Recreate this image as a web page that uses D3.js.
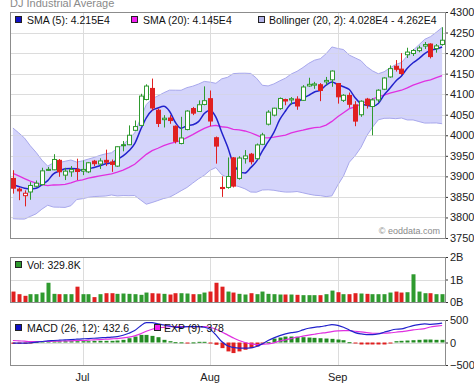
<!DOCTYPE html>
<html>
<head>
<meta charset="utf-8">
<script src="https://cdn.jsdelivr.net/npm/d3@7"></script>
<style>
  body { margin: 0; background: #fff; }
  svg { display: block; }
  text { font-family: "Liberation Sans", Arial, sans-serif; }
</style>
</head>
<body>
<svg width="474" height="386"></svg>
<script>
"use strict";

// closes before the first visible bar, only needed to start SMA(20) / Bollinger
var lookbackCloses = [39908, 39869, 40004, 39807, 39873, 39671, 39065, 39070, 38853, 38442,
    38112, 38686, 38572, 38711, 38807, 38886, 38799, 38868, 38747];

var dates = ["2024-06-12", "2024-06-13", "2024-06-14", "2024-06-17", "2024-06-18", "2024-06-20", "2024-06-21",
    "2024-06-24", "2024-06-25", "2024-06-26", "2024-06-27", "2024-06-28",
    "2024-07-01", "2024-07-02", "2024-07-03", "2024-07-05", "2024-07-08", "2024-07-09", "2024-07-10",
    "2024-07-11", "2024-07-12", "2024-07-15", "2024-07-16", "2024-07-17", "2024-07-18", "2024-07-19",
    "2024-07-22", "2024-07-23", "2024-07-24", "2024-07-25", "2024-07-26", "2024-07-29", "2024-07-30", "2024-07-31",
    "2024-08-01", "2024-08-02", "2024-08-05", "2024-08-06", "2024-08-07", "2024-08-08", "2024-08-09",
    "2024-08-12", "2024-08-13", "2024-08-14", "2024-08-15", "2024-08-16", "2024-08-19", "2024-08-20",
    "2024-08-21", "2024-08-22", "2024-08-23", "2024-08-26", "2024-08-27", "2024-08-28", "2024-08-29", "2024-08-30",
    "2024-09-03", "2024-09-04", "2024-09-05", "2024-09-06", "2024-09-09", "2024-09-10", "2024-09-11",
    "2024-09-12", "2024-09-13", "2024-09-16", "2024-09-17", "2024-09-18", "2024-09-19", "2024-09-20",
    "2024-09-23", "2024-09-24", "2024-09-25", "2024-09-26", "2024-09-27"];

var open = [38950, 38690, 38530, 38620, 38760, 38800, 39170, 39160, 39390, 39030, 39110, 39170,
    39130, 39110, 39370, 39300, 39390, 39350, 39250, 39770, 39770, 40120, 40240, 40870, 41140, 40610,
    40380, 40420, 40220, 39800, 40140, 40650, 40580, 40750,
    40890, 39940, 38730, 38730, 39450, 38950, 39430, 39540, 39430, 39780, 40270, 40490, 40650, 40870,
    40860, 40880, 40850, 41200, 41220, 41230, 41300, 41350,
    41260, 40850, 40970, 40740, 40500, 40880, 40700, 40860, 41120, 41420, 41680, 41610, 41960, 41990,
    42060, 42170, 42220, 42110, 42210];

var high = [39150, 38730, 38660, 38860, 38900, 39210, 39230, 39540, 39420, 39210, 39250, 39430,
    39390, 39350, 39400, 39440, 39650, 39410, 39730, 39860, 40240, 40360, 41010, 41240, 41380, 40650,
    40490, 40490, 40240, 40450, 40610, 40690, 40850, 41190,
    41090, 39970, 39000, 39460, 39470, 39490, 39640, 39570, 39800, 40060, 40610, 40670, 40920, 40890,
    40930, 40950, 41220, 41400, 41300, 41270, 41420, 41580,
    41270, 41000, 41040, 40830, 40850, 40910, 40900, 41120, 41410, 41700, 41830, 42000, 42130, 42100,
    42180, 42270, 42240, 42220, 42630];

var low = [38580, 38420, 38270, 38430, 38730, 38780, 39130, 39150, 38990, 38910, 38990, 38910,
    39030, 39080, 39250, 39180, 39250, 39110, 39230, 39610, 39760, 40110, 40230, 40850, 40600, 40200,
    40190, 40280, 39800, 39780, 40120, 40490, 40570, 40730,
    40220, 39310, 38500, 38700, 38730, 38920, 39310, 39290, 39410, 39760, 40240, 40460, 40620, 40730,
    40750, 40620, 40840, 41180, 41130, 40830, 41220, 41180,
    40770, 40810, 40670, 40220, 40450, 40650, 40000, 40800, 41100, 41400, 41550, 41470, 41880, 41930,
    42020, 42100, 41870, 42010, 42180];

var close = [38712, 38647, 38589, 38778, 38834, 39134, 39150, 39411, 39112, 39127, 39164, 39118,
    39169, 39331, 39308, 39375, 39344, 39291, 39721, 39753, 40001, 40212, 40954, 41198, 40665, 40288,
    40415, 40358, 39854, 39935, 40589, 40539, 40743, 40842,
    40347, 39737, 38703, 38997, 38763, 39446, 39497, 39357, 39765, 40009, 40563, 40659, 40896, 40834,
    40890, 40712, 41175, 41240, 41250, 41091, 41335, 41563,
    40936, 40974, 40755, 40345, 40829, 40736, 40861, 41097, 41394, 41622, 41606, 41503, 42025, 42063,
    42124, 42208, 41915, 42175, 42313];

// volume in millions
var volume = [464, 348, 275, 348, 348, 420, 855, 362, 348, 348, 348, 681,
    348, 348, 217, 348, 391, 391, 362, 377, 362, 348, 319, 420, 391, 377,
    362, 333, 391, 391, 377, 348, 348, 420,
    464, 855, 681, 464, 420, 362, 333, 391, 348, 464, 362, 348, 333, 333,
    333, 319, 304, 304, 304, 304, 348, 507,
    435, 348, 348, 391, 377, 362, 348, 348, 348, 420, 464, 420, 435, 1232,
    464, 391, 391, 348, 348];

var macd = [-15, -15, -15, -7, 7, 22, 37, 44, 51, 59, 66, 73,
    81, 88, 95, 103, 110, 118, 132, 162, 206, 265, 368, 441, 441, 412,
    390, 368, 338, 338, 353, 353, 353, 338,
    294, 169, 22, -73, -110, -125, -125, -118, -88, -29, 44, 103, 154, 191,
    220, 235, 279, 316, 338, 353, 375, 397,
    382, 338, 279, 220, 191, 176, 176, 191, 228, 265, 294, 301, 338, 375,
    397, 412, 404, 412, 432.6];

var signal = [44, 37, 29, 22, 22, 22, 22, 29, 29, 37, 37, 44,
    44, 51, 59, 66, 73, 81, 88, 103, 118, 147, 191, 250, 294, 323,
    338, 353, 353, 353, 353, 353, 353, 353,
    338, 294, 235, 169, 103, 44, 0, -29, -44, -44, -29, -7, 29, 59,
    88, 118, 140, 162, 184, 206, 220, 243,
    257, 265, 265, 250, 235, 220, 206, 206, 206, 213, 228, 243, 257, 279,
    294, 309, 345, 362, 378];

var hist = [-29, -29, -29, -22, 15, 22, 22, 29, 29, 29, 29, 29,
    29, 29, 37, 37, 37, 37, 44, 59, 95, 132, 169, 169, 147, 118,
    59, 29, 7, 4, -15, 3, 15, 15,
    -4, -51, -125, -198, -235, -198, -162, -125, -88, -15, 7, 88, 110, 132,
    132, 125, 118, 110, 103, 95, 88, 81,
    66, 51, 7, -7, -44, -44, -44, -44, -44, -7, 29, 37, 44, 51,
    59, 66, 66, 59, 59];

var priceTicks = [37500, 38000, 38500, 39000, 39500, 40000, 40500, 41000, 41500, 42000, 42500, 43000];
var volTicks = [0, 1000, 2000];
var macdTicks = [-500, 0, 500];
var volLabel = "Vol: 329.8K";

var left = 10, right = 445;
var main = { top: 12, bottom: 238 };
var volP = { top: 257, bottom: 302 };
var macdP = { top: 320, bottom: 365 };

var green = "#2f9a2f", red = "#e02020", grid = "#dcdcdc", frame = "#8c8c8c";

// indicators
var allCloses = lookbackCloses.concat(close);
var off = lookbackCloses.length;
function windowAt(i, n) { return allCloses.slice(off + i - n + 1, off + i + 1); }
var sma5 = close.map(function (d, i) { return d3.mean(windowAt(i, 5)); });
var sma20 = close.map(function (d, i) { return d3.mean(windowAt(i, 20)); });
var band = close.map(function (d, i) {
    var w = windowAt(i, 20), m = d3.mean(w);
    var sd = Math.sqrt(d3.mean(w, function (v) { return (v - m) * (v - m); }));
    return { up: m + 2 * sd, lo: m - 2 * sd };
});

var idx = d3.range(close.length);
var x = d3.scaleBand().domain(idx).range([left, right]);
function cx(i) { return x(i) + x.bandwidth() / 2; }

var y = d3.scaleLinear().domain([37500, 43000]).range([main.bottom, main.top]);
var yv = d3.scaleLinear().domain([0, 2000]).range([volP.bottom, volP.top]);
var ym = d3.scaleLinear().domain([-500, 500]).range([macdP.bottom, macdP.top]);

var svg = d3.select("svg");

// month starts
var monthStarts = idx.filter(function (i) {
    return i > 0 && dates[i].slice(5, 7) !== dates[i - 1].slice(5, 7);
});
var monthName = d3.timeFormat("%b");
var parse = d3.timeParse("%Y-%m-%d");

function panelGrid(p, scale, ticks) {
    var g = svg.append("g");
    g.selectAll("line.h").data(ticks).enter().append("line")
        .attr("x1", left).attr("x2", right)
        .attr("y1", function (d) { return Math.round(scale(d)) + 0.5; })
        .attr("y2", function (d) { return Math.round(scale(d)) + 0.5; })
        .attr("stroke", grid);
    g.selectAll("line.v").data(monthStarts).enter().append("line")
        .attr("x1", function (i) { return Math.round(cx(i)) + 0.5; })
        .attr("x2", function (i) { return Math.round(cx(i)) + 0.5; })
        .attr("y1", p.top).attr("y2", p.bottom)
        .attr("stroke", grid);
    return g;
}

function panelFrame(p) {
    svg.append("rect")
        .attr("x", left + 0.5).attr("y", p.top + 0.5)
        .attr("width", right - left).attr("height", p.bottom - p.top)
        .attr("fill", "none").attr("stroke", frame);
}

function panelAxis(scale, ticks, fmt) {
    svg.append("g")
        .attr("transform", "translate(" + (right + 1) + ",0)")
        .call(d3.axisRight(scale).tickValues(ticks).tickSize(2).tickPadding(2).tickFormat(fmt))
        .call(function (g) {
            g.select(".domain").remove();
            g.selectAll("line").attr("stroke", "#333");
            g.selectAll("text").attr("font-size", 11).attr("fill", "#222")
                .attr("font-family", "Liberation Sans, Arial, sans-serif");
        });
}

function legendBox(xp, yp, fill, stroke) {
    svg.append("rect").attr("x", xp + 0.5).attr("y", yp + 0.5).attr("width", 6).attr("height", 6)
        .attr("fill", fill).attr("stroke", stroke || "#222");
}
function legendText(xp, yp, t) {
    svg.append("text").attr("x", xp).attr("y", yp).attr("font-size", 10.5).attr("fill", "#111").text(t);
}

// ---------- main panel ----------
panelGrid(main, y, priceTicks);

svg.append("path")
    .datum(idx)
    .attr("d", d3.area()
        .x(function (i) { return cx(i); })
        .y0(function (i) { return y(band[i].lo); })
        .y1(function (i) { return y(band[i].up); }))
    .attr("fill", "#ccccfa").attr("fill-opacity", 0.85);
["up", "lo"].forEach(function (k) {
    svg.append("path")
        .datum(idx)
        .attr("d", d3.line().x(function (i) { return cx(i); }).y(function (i) { return y(band[i][k]); }))
        .attr("fill", "none").attr("stroke", "#a8a8ec").attr("stroke-width", 1);
});

// grid shows faintly through the band
panelGrid(main, y, priceTicks).attr("opacity", 0.45);

svg.append("path").datum(idx)
    .attr("d", d3.line().x(function (i) { return cx(i); }).y(function (i) { return y(sma20[i]); }))
    .attr("fill", "none").attr("stroke", "#e030e0").attr("stroke-width", 1.3);

svg.append("path").datum(idx)
    .attr("d", d3.line().curve(d3.curveMonotoneX).x(function (i) { return cx(i); }).y(function (i) { return y(sma5[i]); }))
    .attr("fill", "none").attr("stroke", "#2222cc").attr("stroke-width", 1.5);

function upColor(i) {
    var prev = i > 0 ? close[i - 1] : lookbackCloses[lookbackCloses.length - 1];
    return close[i] >= prev ? green : red;
}

var candles = svg.append("g").selectAll("g").data(idx).enter().append("g");
candles.append("line")
    .attr("x1", function (i) { return Math.round(cx(i)) + 0.5; })
    .attr("x2", function (i) { return Math.round(cx(i)) + 0.5; })
    .attr("y1", function (i) { return y(high[i]); })
    .attr("y2", function (i) { return y(low[i]); })
    .attr("stroke", upColor);
candles.append("rect")
    .attr("x", function (i) { return Math.round(cx(i)) - 1.5; })
    .attr("y", function (i) { return y(Math.max(open[i], close[i])); })
    .attr("width", 4)
    .attr("height", function (i) { return Math.max(1, Math.abs(y(open[i]) - y(close[i]))); })
    .attr("fill", function (i) { return close[i] < open[i] ? upColor(i) : "#fff"; })
    .attr("stroke", upColor);

panelFrame(main);
panelAxis(y, priceTicks, d3.format("d"));

svg.append("text").attr("x", 440).attr("y", 234).attr("text-anchor", "end")
    .attr("font-size", 9).attr("fill", "#8a8a8a").text("\u00a9 eoddata.com");

svg.append("text").attr("x", 10).attr("y", 7).attr("font-size", 11).attr("fill", "#8a8a8a")
    .text("DJ Industrial Average");

function fmtE(v) {
    var e = Math.floor(Math.log10(v));
    return (v / Math.pow(10, e)).toFixed(3) + "E" + e;
}
var last = close.length - 1;
legendBox(15, 16, "#1010c8");
legendText(27, 24, "SMA (5): " + fmtE(sma5[last]));
legendBox(131, 16, "#f020f0");
legendText(143, 24, "SMA (20): " + fmtE(sma20[last]));
legendBox(258, 16, "#b4b4e8");
legendText(269, 24, "Bollinger (20, 2): " + fmtE(band[last].lo) + " - " + fmtE(band[last].up));

// ---------- volume panel ----------
panelGrid(volP, yv, [1000]);
svg.append("g").selectAll("rect").data(idx).enter().append("rect")
    .attr("x", function (i) { return Math.round(cx(i)) - 1.5; })
    .attr("y", function (i) { return yv(volume[i]); })
    .attr("width", 4)
    .attr("height", function (i) { return yv(0) - yv(volume[i]); })
    .attr("fill", upColor);
panelFrame(volP);
panelAxis(yv, volTicks, function (d) { return d / 1000 + "B"; });
legendBox(15, 261, "#2f9a2f");
legendText(27, 269, volLabel);

// ---------- MACD panel ----------
panelGrid(macdP, ym, [0]);
svg.append("g").selectAll("rect").data(idx).enter().append("rect")
    .attr("x", function (i) { return Math.round(cx(i)) - 1.5; })
    .attr("y", function (i) { return Math.min(ym(hist[i]), ym(0)); })
    .attr("width", 4)
    .attr("height", function (i) { return Math.max(1, Math.abs(ym(hist[i]) - ym(0))); })
    .attr("fill", function (i) { return hist[i] >= 0 ? "#228b22" : red; });
svg.append("path").datum(idx)
    .attr("d", d3.line().curve(d3.curveMonotoneX).x(function (i) { return cx(i); }).y(function (i) { return ym(signal[i]); }))
    .attr("fill", "none").attr("stroke", "#e030e0").attr("stroke-width", 1.2);
svg.append("path").datum(idx)
    .attr("d", d3.line().curve(d3.curveMonotoneX).x(function (i) { return cx(i); }).y(function (i) { return ym(macd[i]); }))
    .attr("fill", "none").attr("stroke", "#2222cc").attr("stroke-width", 1.2);
panelFrame(macdP);
panelAxis(ym, macdTicks, d3.format("d"));
legendBox(15, 324, "#1010c8");
legendText(27, 332, "MACD (26, 12): " + d3.format(".4~")(macd[last]));
legendBox(154, 324, "#f020f0");
legendText(164, 332, "EXP (9): " + d3.format(".3~")(signal[last]));

// month labels
svg.append("g").selectAll("text").data(monthStarts).enter().append("text")
    .attr("x", function (i) { return cx(i); })
    .attr("y", 381)
    .attr("text-anchor", "middle")
    .attr("font-size", 11).attr("fill", "#222")
    .text(function (i) { return monthName(parse(dates[i])); });
</script>
</body>
</html>
